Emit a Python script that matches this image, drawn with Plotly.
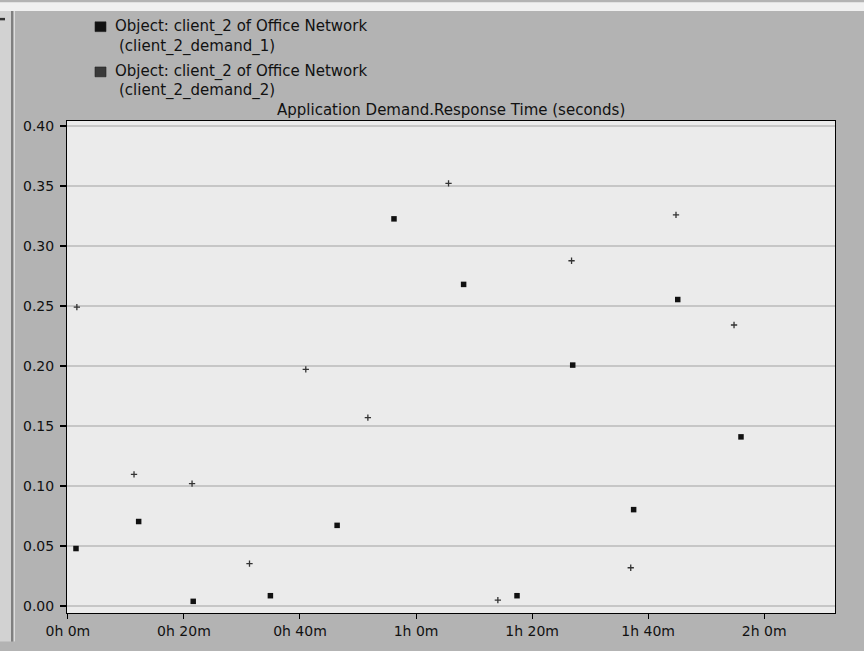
import plotly.graph_objects as go

# Time in minutes, response time in seconds
demand1_time = [1.4, 12.2, 21.6, 34.9, 46.4, 56.2, 68.2, 77.4, 87.0, 97.5, 105.1, 116.0]
demand1_resp = [0.048, 0.0705, 0.004, 0.0087, 0.0673, 0.3226, 0.268, 0.0087, 0.2008, 0.0804, 0.2554, 0.141]

demand2_time = [1.55, 11.4, 21.4, 31.3, 41.0, 51.7, 65.6, 74.1, 86.8, 97.0, 104.8, 114.8]
demand2_resp = [0.249, 0.1097, 0.102, 0.0354, 0.1973, 0.157, 0.3522, 0.0051, 0.2877, 0.032, 0.3259, 0.2342]

x_tick_vals = [0, 20, 40, 60, 80, 100, 120]
x_tick_text = ["0h 0m", "0h 20m", "0h 40m", "1h 0m", "1h 20m", "1h 40m", "2h 0m"]
y_tick_vals = [0.0, 0.05, 0.10, 0.15, 0.20, 0.25, 0.30, 0.35, 0.40]

legend_lines = [
    ("Object: client_2 of Office Network", "(client_2_demand_1)"),
    ("Object: client_2 of Office Network", "(client_2_demand_2)"),
]
chart_title = "Application Demand.Response Time (seconds)"

W, H = 864, 651
L, R, T, B = 67, 29, 121, 29
PW, PH = W - L - R, H - T - B
FONT = "DejaVu Sans"


def px(p):
    return (p - L) / PW


def py(q):
    return (H - B - q) / PH


fig = go.Figure()
fig.add_trace(go.Scatter(
    x=demand1_time, y=demand1_resp, mode="markers",
    marker=dict(symbol="square", size=5.5, color="#111111"),
    showlegend=False, name=legend_lines[0][1]))
fig.add_trace(go.Scatter(
    x=demand2_time, y=demand2_resp, mode="markers",
    marker=dict(symbol="cross-thin", size=4.5, color="#333333",
                line=dict(color="#333333", width=1.3)),
    showlegend=False, name=legend_lines[1][1]))

shapes = []
# window decorations on left / top
shapes.append(dict(type="rect", xref="paper", yref="paper", x0=px(0), x1=px(W),
                   y0=py(0), y1=py(9), fillcolor="#f0f0f0", line=dict(width=0), layer="below"))
shapes.append(dict(type="rect", xref="paper", yref="paper", x0=px(0), x1=px(11),
                   y0=py(9), y1=py(H), fillcolor="#d2d2d2", line=dict(width=0), layer="below"))
shapes.append(dict(type="line", xref="paper", yref="paper", x0=px(12), x1=px(12),
                   y0=py(9), y1=py(H), line=dict(color="#6e6e6e", width=1.5)))
shapes.append(dict(type="line", xref="paper", yref="paper", x0=px(14.5), x1=px(14.5),
                   y0=py(9), y1=py(H), line=dict(color="#dcdcdc", width=1)))
shapes.append(dict(type="rect", xref="paper", yref="paper", x0=px(0), x1=px(5),
                   y0=py(16), y1=py(18.5), fillcolor="#333333", line=dict(width=0)))

annotations = []
legend_rows = [(25, 45), (71, 90)]
legend_colors = ["#111111", "#3a3a3a"]
for (l1, l2), (y1, y2), col in zip(legend_lines, legend_rows, legend_colors):
    shapes.append(dict(type="rect", xref="paper", yref="paper",
                       x0=px(95), x1=px(106), y0=py(y1 - 5), y1=py(y1 + 5),
                       fillcolor=col, line=dict(color="#222222", width=0.6)))
    annotations.append(dict(x=px(113), y=py(y1), xref="paper", yref="paper",
                            text=l1, showarrow=False, xanchor="left", yanchor="middle",
                            font=dict(family=FONT, size=15, color="#111111")))
    annotations.append(dict(x=px(117), y=py(y2), xref="paper", yref="paper",
                            text=l2, showarrow=False, xanchor="left", yanchor="middle",
                            font=dict(family=FONT, size=15, color="#111111")))

annotations.append(dict(x=0.5, y=py(110), xref="paper", yref="paper",
                        text=chart_title, showarrow=False, xanchor="center", yanchor="middle",
                        font=dict(family=FONT, size=15, color="#111111")))

fig.update_layout(
    width=W, height=H,
    margin=dict(l=L, r=R, t=T, b=B, pad=0),
    paper_bgcolor="#b3b3b3",
    plot_bgcolor="#ebebeb",
    font=dict(family=FONT, size=14, color="#111111"),
    shapes=shapes,
    annotations=annotations,
    showlegend=False,
)
fig.update_xaxes(
    range=[-0.15, 132.2], tickmode="array", tickvals=x_tick_vals, ticktext=x_tick_text,
    showgrid=False, zeroline=False, showline=True, linecolor="#000000", linewidth=1,
    mirror=True, ticks="outside", ticklen=5, tickcolor="#000000", tickwidth=1,
    tickfont=dict(family=FONT, size=14, color="#111111"))
fig.update_yaxes(
    range=[-0.0057, 0.4041], tickmode="array", tickvals=y_tick_vals, tickformat=".2f",
    showgrid=True, gridcolor="#c6c6c6", gridwidth=1.5, zeroline=False,
    showline=True, linecolor="#000000", linewidth=1, mirror=True,
    ticks="outside", ticklen=6, tickcolor="#000000", tickwidth=1.5,
    ticklabelstandoff=3,
    tickfont=dict(family=FONT, size=14, color="#111111"))

fig.write_html("out.html", config={"displayModeBar": False},
               post_script="document.body.style.margin='0';document.body.style.padding='0';")
